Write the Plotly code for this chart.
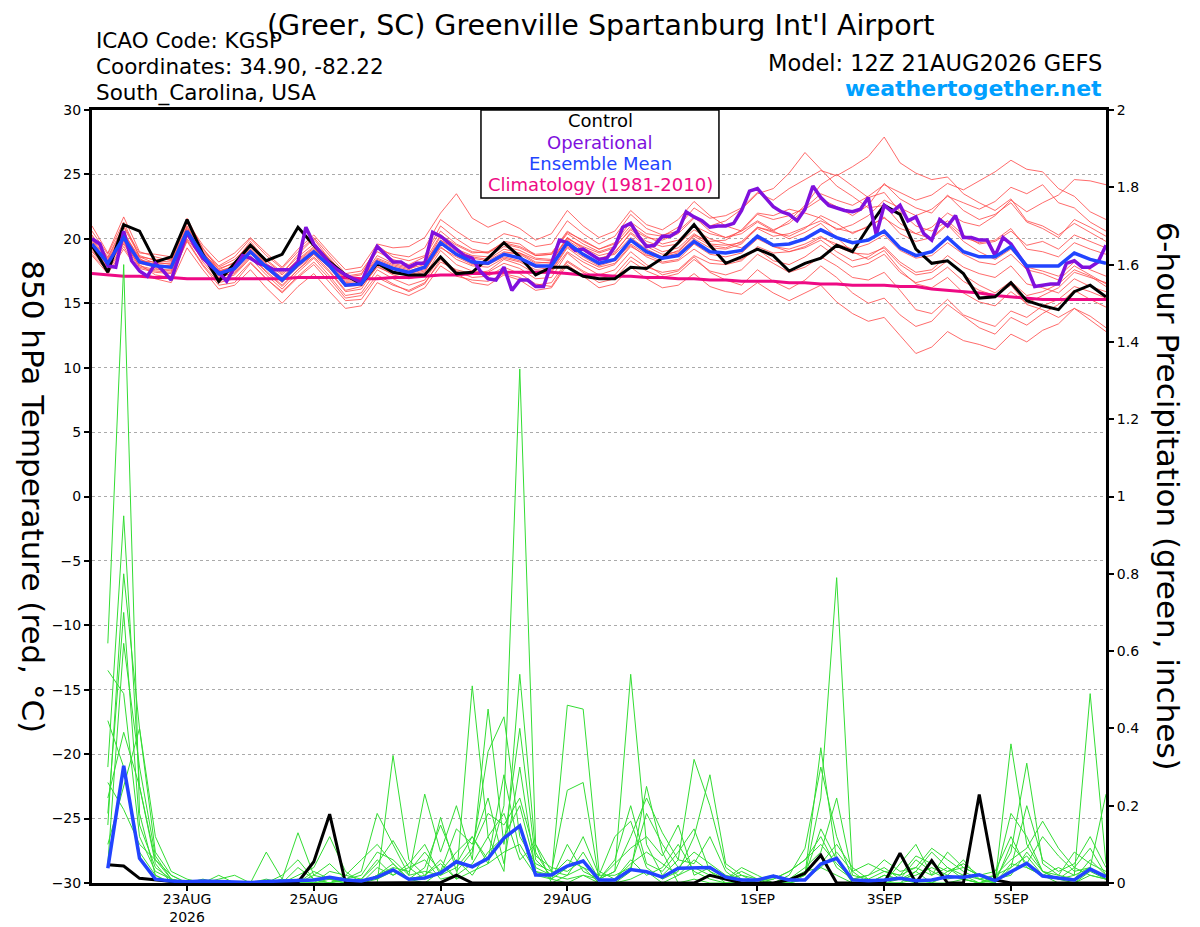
import pandas as pd
import plotly.graph_objects as go

# forecast times: 12Z 21 Aug 2026 run, 6-hourly out to 384h (op run is 3-hourly)
run_start = pd.Timestamp('2026-08-21 12:00')
tick_dates = ['2026-08-23', '2026-08-25', '2026-08-27', '2026-08-29', '2026-09-01', '2026-09-03', '2026-09-05']
tick_labels = ['23AUG<br>2026', '25AUG', '27AUG', '29AUG', '1SEP', '3SEP', '5SEP']

# 850 hPa temperature (C), 6-hourly from hour 0
control_temp = [19.5, 17.4, 21.1, 20.6, 18.2, 18.6, 21.5, 18.8, 16.7, 18.1,
                19.5, 18.3, 18.8, 20.9, 19.5, 18.2, 17.2, 16.5, 18.1, 17.4,
                17.2, 17.2, 18.6, 17.3, 17.4, 18.5, 19.7, 18.6, 17.2, 17.8,
                17.8, 17.1, 16.9, 16.9, 17.8, 17.7, 18.5, 19.7, 21.1, 19.5,
                18.1, 18.6, 19.2, 18.7, 17.5, 18.1, 18.5, 19.5, 19.0, 20.9,
                22.6, 21.9, 19.2, 18.1, 18.3, 17.3, 15.4, 15.5, 16.6, 15.2,
                14.8, 14.5, 15.9, 16.4, 15.5]
mean_temp = [19.6, 18.1, 20.1, 18.2, 17.9, 17.8, 20.6, 18.7, 17.3, 17.7,
             19.0, 17.8, 16.8, 18.0, 19.0, 17.9, 16.4, 16.5, 18.2, 17.7,
             17.4, 17.8, 19.7, 18.8, 18.2, 18.1, 18.8, 18.5, 17.9, 17.9,
             19.7, 18.8, 18.1, 18.4, 19.9, 19.0, 18.5, 18.7, 19.8, 19.0,
             18.9, 19.1, 20.2, 19.5, 19.6, 20.0, 20.7, 20.1, 19.7, 19.9,
             20.6, 19.3, 18.7, 19.0, 20.1, 19.0, 18.6, 18.6, 19.4, 17.9,
             17.9, 17.9, 18.9, 18.4, 18.1]
clim_temp = [17.3, 17.2, 17.1, 17.1, 17.0, 17.0, 16.9, 16.9, 16.9, 16.9,
             16.9, 16.9, 16.9, 17.0, 17.0, 17.0, 17.0, 16.9, 16.9, 17.0,
             17.0, 17.1, 17.2, 17.2, 17.3, 17.3, 17.4, 17.4, 17.4, 17.4,
             17.3, 17.2, 17.2, 17.1, 17.1, 17.0, 17.0, 16.9, 16.9, 16.8,
             16.8, 16.7, 16.7, 16.7, 16.6, 16.6, 16.5, 16.5, 16.4, 16.4,
             16.4, 16.3, 16.3, 16.1, 16.0, 15.9, 15.8, 15.6, 15.5, 15.4,
             15.3, 15.3, 15.3, 15.3, 15.3]
# operational, 3-hourly
op_temp = [20.0, 19.6, 17.9, 17.8, 20.6, 18.3, 17.5, 17.1,
           18.1, 17.5, 16.8, 18.6, 20.5, 19.4, 18.5, 17.9,
           17.4, 16.7, 17.8, 18.7, 18.5, 18.1, 17.9, 17.6,
           17.6, 17.6, 18.2, 20.9, 19.6, 18.8, 18.1, 17.6,
           17.2, 16.9, 16.6, 18.1, 19.4, 18.8, 18.2, 18.2,
           17.8, 18.1, 18.1, 20.5, 20.2, 19.7, 19.2, 18.7,
           18.5, 17.5, 16.9, 16.8, 17.8, 16.0, 16.8, 16.8,
           16.3, 16.3, 18.1, 19.9, 19.7, 19.1, 19.2, 18.8,
           18.4, 18.5, 19.4, 20.9, 21.2, 20.2, 19.4, 19.5,
           20.2, 20.2, 20.6, 22.1, 21.7, 21.4, 20.9, 21.0,
           21.0, 21.2, 22.2, 23.7, 23.9, 23.2, 22.5, 22.1,
           21.9, 21.4, 22.3, 24.1, 23.2, 22.6, 22.4, 22.2,
           22.1, 22.3, 23.2, 20.3, 22.6, 22.1, 22.6, 21.4,
           21.7, 20.4, 19.9, 21.5, 21.0, 21.8, 20.1, 20.1,
           19.9, 19.9, 18.7, 20.1, 19.6, 18.7, 17.8, 16.3,
           16.4, 16.5, 16.5, 18.1, 18.3, 17.8, 17.8, 18.2,
           19.5]

member_temp = [
    [21.0, 18.9, 21.7, 19.0, 18.6, 18.3, 21.2, 19.3, 17.6, 18.2,
     19.8, 18.3, 17.3, 18.8, 20.0, 18.4, 17.0, 17.2, 19.5, 18.6,
     18.3, 18.7, 21.0, 20.0, 19.2, 18.9, 19.8, 19.6, 18.7, 18.8,
     20.5, 19.9, 19.2, 19.7, 21.3, 20.4, 20.2, 20.9, 22.4, 21.6,
     21.8, 22.4, 23.6, 23.0, 23.9, 24.6, 25.3, 24.9, 25.6, 26.4,
     27.9, 25.9, 25.1, 24.6, 24.8, 23.5, 22.8, 22.2, 23.1, 21.4,
     21.0, 20.3, 21.2, 20.5, 19.8],
    [18.8, 17.5, 19.4, 17.4, 17.0, 17.1, 19.8, 17.9, 16.4, 16.6,
     18.1, 16.9, 15.9, 17.1, 18.2, 16.9, 15.4, 15.6, 17.2, 16.5,
     15.9, 16.5, 18.4, 17.3, 16.6, 16.4, 17.2, 16.8, 16.0, 16.2,
     18.0, 17.1, 16.2, 16.5, 17.8, 16.9, 16.2, 16.4, 17.3, 16.3,
     15.9, 15.7, 16.6, 15.8, 15.2, 15.8, 16.4, 15.1, 14.2, 13.6,
     13.9, 12.5, 11.1, 11.6, 12.8, 12.1, 11.8, 11.4, 12.6, 12.0,
     12.9, 13.4, 14.6, 14.0, 13.1],
    [20.3, 18.6, 21.0, 18.9, 18.8, 18.6, 21.3, 19.5, 18.2, 18.9,
     20.1, 18.9, 17.8, 19.2, 20.3, 18.9, 17.6, 17.8, 19.6, 19.3,
     19.4, 20.1, 22.0, 23.5, 21.6, 20.9, 21.4, 20.8, 19.9, 20.4,
     22.2, 21.0, 20.1, 20.6, 22.2, 21.1, 20.7, 21.5, 22.9, 21.8,
     21.0, 20.6, 21.4, 20.7, 21.2, 22.3, 23.1, 22.5, 21.8, 22.6,
     24.3, 23.1, 22.4, 22.0, 23.4, 22.2, 21.5, 21.9, 22.8, 21.3,
     20.8, 20.1, 21.5, 20.9, 20.2],
    [19.2, 17.8, 19.9, 17.8, 17.5, 17.4, 20.2, 18.5, 17.1, 17.3,
     18.6, 17.5, 16.4, 17.6, 18.8, 17.5, 16.0, 16.3, 17.8, 17.3,
     17.2, 17.5, 19.3, 18.6, 18.0, 18.0, 18.9, 18.9, 18.4, 18.3,
     20.0, 19.4, 18.9, 19.3, 20.8, 20.1, 19.9, 20.4, 21.6, 21.0,
     21.4, 22.3, 23.5, 23.9, 25.1, 26.7, 25.4, 24.1, 23.3, 22.4,
     22.6, 21.2, 20.4, 20.0, 21.1, 19.8, 19.0, 18.4, 19.2, 17.8,
     17.5, 17.1, 18.2, 17.6, 17.1],
    [19.4, 18.2, 20.3, 18.5, 17.7, 17.5, 20.4, 18.2, 16.8, 17.2,
     18.5, 17.2, 16.1, 17.4, 18.5, 17.1, 15.6, 15.8, 17.6, 16.9,
     16.4, 16.8, 18.6, 17.5, 17.0, 17.1, 17.8, 17.3, 16.5, 16.3,
     18.2, 17.4, 16.6, 16.9, 18.3, 17.5, 17.0, 17.3, 18.4, 17.5,
     17.2, 17.6, 18.8, 18.1, 17.4, 17.8, 18.6, 17.9, 17.0, 16.8,
     17.4, 16.0, 14.5, 14.2, 15.3, 14.1, 13.6, 13.2, 14.4, 13.9,
     14.8, 15.3, 16.3, 15.9, 15.4],
    [20.0, 18.4, 20.6, 18.3, 18.2, 18.0, 20.9, 19.0, 17.5, 17.9,
     19.3, 18.0, 17.0, 18.3, 19.3, 18.2, 16.8, 16.9, 18.7, 18.1,
     17.8, 18.2, 19.9, 19.2, 18.7, 18.6, 19.4, 19.1, 18.5, 18.4,
     20.1, 19.3, 18.7, 19.0, 20.4, 19.4, 18.8, 19.0, 20.2, 19.5,
     19.3, 19.8, 20.9, 20.5, 20.2, 20.8, 21.8, 21.2, 20.4, 21.0,
     21.6, 20.8, 20.4, 20.9, 22.0, 21.3, 21.0, 21.8, 23.0, 22.1,
     22.8, 23.4, 24.6, 24.5, 24.2],
    [19.7, 18.0, 19.8, 18.1, 17.8, 17.9, 20.5, 18.8, 17.4, 17.9,
     19.1, 17.9, 16.9, 18.2, 19.2, 18.1, 16.7, 16.8, 18.4, 17.9,
     17.6, 18.3, 20.3, 19.5, 18.9, 19.0, 19.7, 19.4, 18.8, 18.9,
     20.6, 19.8, 19.2, 19.6, 21.0, 20.2, 19.6, 19.9, 21.0, 20.4,
     20.1, 20.6, 21.9, 21.5, 21.8, 22.4, 23.5, 23.0, 22.6, 23.3,
     24.2, 23.6, 23.0, 23.4, 24.3, 23.8, 24.5, 25.2, 26.1, 25.4,
     25.2, 23.9, 23.3, 22.1, 21.5],
    [19.0, 17.6, 19.6, 17.7, 17.4, 17.3, 20.0, 18.4, 17.0, 17.4,
     18.7, 17.4, 16.3, 17.6, 18.6, 17.4, 15.9, 16.1, 17.9, 17.2,
     16.9, 17.2, 19.1, 18.0, 17.5, 17.4, 18.1, 17.7, 16.9, 17.0,
     18.9, 17.9, 17.2, 17.6, 19.0, 18.0, 17.2, 17.5, 18.6, 17.4,
     16.8, 16.4, 17.6, 16.7, 16.1, 16.8, 17.9, 17.0, 15.8, 15.0,
     15.4, 14.1, 13.2, 13.6, 14.9, 14.0, 13.1, 12.6, 13.9, 13.3,
     14.2, 14.9, 16.0, 15.3, 14.7],
    [19.9, 18.3, 20.4, 18.6, 18.1, 18.1, 20.8, 18.9, 17.7, 18.1,
     19.4, 18.1, 17.2, 18.4, 19.4, 18.3, 16.9, 16.9, 18.5, 18.0,
     17.7, 18.0, 20.2, 19.1, 18.6, 18.4, 19.2, 18.9, 18.2, 18.1,
     19.9, 19.1, 18.4, 18.9, 20.5, 19.6, 19.0, 19.3, 20.4, 19.6,
     19.5, 19.7, 20.8, 20.2, 20.4, 20.9, 21.4, 20.8, 20.5, 20.9,
     21.7, 20.4, 19.8, 20.1, 21.2, 20.1, 19.7, 19.9, 20.8, 19.2,
     19.0, 18.6, 19.7, 19.2, 18.8],
    [18.7, 17.3, 19.2, 17.4, 16.9, 16.6, 19.3, 17.6, 16.1, 16.4,
     17.6, 16.2, 15.0, 16.3, 17.3, 15.9, 14.6, 14.8, 16.6, 16.0,
     15.6, 16.2, 17.9, 17.1, 16.8, 16.7, 17.3, 17.0, 16.4, 16.6,
     18.3, 17.5, 16.9, 17.2, 18.6, 17.8, 17.4, 17.6, 18.7, 18.1,
     18.0, 18.3, 19.4, 18.9, 19.0, 19.4, 20.1, 19.6, 19.2, 19.6,
     20.3, 19.1, 18.5, 18.7, 19.7, 18.8, 18.2, 18.0, 18.8, 17.6,
     17.3, 16.8, 17.9, 17.2, 16.5],
    [20.2, 18.5, 20.9, 18.7, 18.3, 18.2, 21.0, 19.1, 17.8, 18.4,
     19.6, 18.4, 17.4, 18.6, 19.6, 18.5, 17.1, 17.3, 19.0, 18.4,
     18.0, 18.6, 20.6, 19.6, 19.0, 18.9, 19.6, 19.3, 18.7, 18.8,
     20.4, 19.6, 19.0, 19.4, 20.7, 19.8, 19.4, 19.6, 20.7, 20.0,
     19.6, 19.3, 20.1, 19.4, 19.0, 19.3, 19.9, 19.0, 18.3, 18.6,
     19.4, 18.2, 17.4, 17.6, 18.7, 17.8, 17.3, 17.0, 17.9, 16.5,
     16.2, 15.8, 16.9, 16.3, 15.9],
    [19.3, 17.9, 19.7, 17.9, 17.6, 17.6, 20.3, 18.6, 17.3, 17.6,
     18.9, 17.7, 16.6, 17.9, 18.9, 17.7, 16.3, 16.4, 18.1, 17.6,
     17.3, 17.6, 19.4, 18.4, 17.9, 17.8, 18.5, 18.2, 17.6, 17.5,
     19.3, 18.4, 17.8, 18.1, 19.5, 18.6, 18.1, 18.3, 19.2, 18.4,
     18.2, 18.4, 19.2, 18.3, 18.0, 18.6, 19.5, 18.6, 17.8, 18.1,
     18.8, 17.4, 16.6, 16.9, 17.8, 16.7, 16.0, 15.6, 16.4, 14.9,
     14.5, 13.9, 14.6, 13.7, 12.8],
    [20.6, 18.8, 21.3, 18.6, 18.4, 18.4, 21.6, 19.2, 17.9, 18.6,
     20.0, 18.7, 17.7, 19.0, 20.1, 18.7, 17.3, 17.5, 19.2, 18.8,
     18.6, 19.3, 21.5, 20.6, 19.8, 19.6, 20.4, 20.1, 19.4, 19.6,
     21.4, 20.4, 19.6, 20.2, 21.9, 20.8, 20.3, 20.6, 21.7, 20.6,
     20.1, 20.4, 21.3, 20.6, 20.0, 20.5, 21.2, 20.1, 19.0, 18.4,
     19.1, 17.6, 16.5, 16.2, 17.0, 15.8, 15.1, 14.8, 15.9, 15.0,
     15.6, 16.2, 17.4, 17.0, 16.6],
    [19.1, 17.7, 20.0, 18.0, 17.2, 17.0, 19.9, 18.0, 16.6, 16.9,
     18.2, 16.9, 15.8, 17.0, 18.0, 16.6, 15.2, 15.3, 17.0, 16.4,
     16.0, 16.6, 18.2, 17.6, 17.3, 17.5, 18.4, 18.0, 17.3, 17.4,
     19.0, 18.2, 17.6, 18.0, 19.4, 18.7, 18.6, 19.1, 20.3, 19.8,
     19.9, 20.7, 22.0, 21.8, 22.3, 22.0, 21.6, 20.7, 21.1, 21.8,
     23.0, 22.4, 21.8, 22.3, 23.3, 22.8, 22.3, 22.9, 24.0, 23.5,
     24.2, 22.8, 22.4, 21.3, 20.6],
    [19.8, 18.1, 20.0, 18.2, 18.0, 17.7, 20.6, 18.6, 17.2, 17.5,
     18.9, 17.7, 16.7, 17.8, 18.8, 17.8, 16.5, 16.6, 18.3, 17.5,
     17.1, 17.4, 19.6, 18.7, 18.1, 18.0, 18.6, 18.3, 17.8, 17.6,
     19.4, 18.6, 17.9, 18.3, 19.6, 18.8, 18.2, 18.4, 19.6, 18.8,
     18.6, 18.9, 20.0, 19.4, 19.2, 19.6, 20.2, 19.4, 18.9, 18.8,
     19.3, 18.0, 17.2, 17.4, 18.3, 17.2, 16.4, 15.8, 16.7, 15.6,
     15.9, 16.5, 17.6, 17.1, 16.3],
    [19.5, 18.0, 20.2, 18.4, 18.0, 17.9, 20.7, 18.9, 17.5, 17.8,
     19.2, 17.9, 16.9, 18.1, 19.1, 18.0, 16.6, 16.7, 18.3, 17.8,
     17.5, 17.9, 19.9, 19.0, 18.5, 18.3, 19.0, 18.8, 18.1, 18.2,
     20.1, 19.2, 18.5, 18.8, 20.1, 19.2, 18.6, 18.9, 20.0, 19.3,
     19.2, 19.6, 20.9, 20.6, 21.4, 22.6, 24.2, 25.0, 24.1, 23.2,
     23.6, 22.1, 21.0, 20.6, 21.4, 20.3, 19.6, 19.8, 20.6, 19.5,
     19.8, 19.2, 20.3, 19.8, 19.3],
]

# 6-hour precipitation (inches), ending at hour 6 ... 384
control_precip = [0.047, 0.044, 0.012, 0.008, 0.003, 0, 0, 0,
                  0, 0, 0, 0, 0.002, 0.055, 0.178, 0,
                  0, 0, 0, 0, 0, 0.001, 0.020, 0,
                  0, 0, 0, 0, 0, 0, 0, 0,
                  0, 0, 0, 0, 0, 0, 0.020, 0.010,
                  0, 0, 0, 0.008, 0.025, 0.072, 0, 0,
                  0, 0, 0.077, 0, 0.058, 0, 0, 0.229,
                  0.008, 0, 0, 0, 0, 0, 0, 0]
mean_precip = [0.038, 0.303, 0.064, 0.010, 0.005, 0.003, 0.005, 0.003,
               0.001, 0.001, 0.004, 0.006, 0.008, 0.008, 0.015, 0.008,
               0.005, 0.015, 0.034, 0.010, 0.013, 0.026, 0.055, 0.042,
               0.064, 0.116, 0.148, 0.021, 0.021, 0.044, 0.057, 0.008,
               0.008, 0.035, 0.029, 0.015, 0.038, 0.038, 0.040, 0.015,
               0.008, 0.008, 0.018, 0.008, 0.008, 0.049, 0.064, 0.008,
               0.006, 0.008, 0.012, 0.006, 0.008, 0.016, 0.015, 0.021,
               0.006, 0.029, 0.051, 0.018, 0.012, 0.008, 0.036, 0.016]
member_precip = [
    [0.62, 1.60, 0.18, 0.02, 0, 0, 0, 0,
     0, 0, 0, 0, 0, 0, 0.01, 0,
     0, 0.02, 0.05, 0.01, 0, 0.03, 0.08, 0.12,
     0.05, 0.20, 1.33, 0.10, 0, 0.02, 0.04, 0,
     0, 0.01, 0.03, 0, 0.02, 0.06, 0.03, 0,
     0, 0, 0, 0, 0.01, 0.04, 0.02, 0,
     0, 0, 0.01, 0, 0, 0.03, 0.05, 0.02,
     0, 0.04, 0.07, 0.02, 0, 0, 0.03, 0.01],
    [0.30, 0.95, 0.25, 0.06, 0.01, 0, 0, 0,
     0, 0, 0, 0, 0.02, 0.04, 0.12, 0.03,
     0, 0, 0.33, 0.06, 0.02, 0.05, 0.01, 0.51,
     0.12, 0.03, 0.54, 0.08, 0.01, 0, 0.02, 0.01,
     0, 0.03, 0.25, 0.08, 0, 0.01, 0, 0,
     0, 0, 0, 0.01, 0.02, 0.35, 0.06, 0,
     0, 0, 0, 0.03, 0, 0, 0.01, 0,
     0.01, 0.02, 0.08, 0.03, 0.01, 0, 0.02, 0.01],
    [0.15, 0.80, 0.40, 0.08, 0.02, 0, 0, 0,
     0, 0, 0, 0, 0.04, 0.01, 0, 0.01,
     0.03, 0.18, 0.10, 0.02, 0.23, 0.08, 0.20, 0.06,
     0.45, 0.10, 0.40, 0.06, 0.02, 0.46, 0.45, 0.03,
     0.01, 0.06, 0.02, 0.04, 0.10, 0.03, 0.01, 0,
     0, 0, 0, 0, 0.02, 0.22, 0.79, 0.03,
     0, 0, 0, 0.01, 0, 0.02, 0.06, 0.01,
     0, 0.36, 0.10, 0.03, 0.01, 0.02, 0.49, 0.05],
    [0.55, 0.49, 0.12, 0.03, 0.01, 0, 0.01, 0,
     0, 0, 0.01, 0, 0, 0, 0, 0.02,
     0.01, 0.05, 0.11, 0.04, 0.01, 0.17, 0.03, 0.08,
     0.34, 0.43, 0.12, 0.05, 0.03, 0.24, 0.26, 0.01,
     0.03, 0.54, 0.10, 0.02, 0.06, 0.32, 0.20, 0.04,
     0.01, 0, 0.01, 0.03, 0.06, 0.10, 0.05, 0.01,
     0.02, 0.04, 0.01, 0.06, 0.03, 0.01, 0.02, 0,
     0.01, 0.08, 0.31, 0.05, 0.02, 0.01, 0.06, 0.02],
    [0.22, 0.39, 0.25, 0.05, 0, 0, 0, 0.02,
     0, 0, 0.08, 0.01, 0.13, 0.02, 0.05, 0.01,
     0, 0.04, 0.02, 0.05, 0.10, 0.02, 0.06, 0.02,
     0.08, 0.12, 0.20, 0.04, 0.02, 0.06, 0.04, 0.02,
     0.12, 0.16, 0.04, 0.01, 0.03, 0.12, 0.28, 0.05,
     0.02, 0, 0.02, 0.01, 0.04, 0.08, 0.22, 0.02,
     0.01, 0, 0.05, 0.10, 0.02, 0.04, 0.01, 0,
     0.02, 0.04, 0.20, 0.06, 0.03, 0.05, 0.12, 0.04],
    [0.42, 0.30, 0.08, 0.02, 0, 0, 0, 0,
     0, 0, 0, 0, 0.01, 0, 0.03, 0.02,
     0.06, 0.10, 0.05, 0.01, 0.04, 0.15, 0.05, 0.12,
     0.06, 0.28, 0.08, 0.02, 0.01, 0.10, 0.03, 0.01,
     0.05, 0.09, 0.12, 0.07, 0.15, 0.02, 0.04, 0.01,
     0.03, 0.01, 0, 0.02, 0.09, 0.30, 0.12, 0.01,
     0, 0.02, 0.01, 0.03, 0.08, 0.04, 0.02, 0.01,
     0, 0.10, 0.05, 0.12, 0.07, 0.03, 0.04, 0.23],
    [0.10, 0.25, 0.40, 0.12, 0.03, 0.01, 0, 0.01,
     0.02, 0, 0, 0, 0, 0.03, 0.01, 0,
     0, 0.02, 0.04, 0.03, 0.08, 0.03, 0.14, 0.10,
     0.22, 0.05, 0.30, 0.03, 0.01, 0.04, 0.12, 0.02,
     0.02, 0.04, 0.18, 0.10, 0.04, 0.08, 0.05, 0.02,
     0.01, 0, 0, 0, 0.01, 0.05, 0.10, 0.04,
     0.01, 0.03, 0.02, 0.07, 0.05, 0.03, 0.04, 0.02,
     0.01, 0.18, 0.12, 0.03, 0.02, 0.08, 0.05, 0.03],
    [0.05, 0.62, 0.30, 0.07, 0.01, 0, 0, 0,
     0, 0, 0, 0.02, 0.06, 0.01, 0, 0,
     0.01, 0.06, 0.02, 0.04, 0.06, 0.01, 0.02, 0.05,
     0.12, 0.18, 0.06, 0.10, 0.03, 0.02, 0.08, 0.01,
     0.06, 0.20, 0.05, 0.03, 0.08, 0.14, 0.03, 0.01,
     0.02, 0.01, 0.01, 0.03, 0.06, 0.12, 0.04, 0.01,
     0.02, 0.06, 0.03, 0.04, 0.09, 0.06, 0.03, 0.01,
     0.02, 0.06, 0.09, 0.16, 0.09, 0.04, 0.02, 0.01],
    [0.18, 0.70, 0.15, 0.04, 0.01, 0, 0, 0,
     0, 0, 0, 0, 0, 0, 0, 0.01,
     0.02, 0.08, 0.06, 0.02, 0.03, 0.02, 0.04, 0.09,
     0.18, 0.15, 0.22, 0.07, 0.04, 0.03, 0.06, 0.01,
     0.03, 0.12, 0.22, 0.13, 0.06, 0.05, 0.12, 0.03,
     0, 0.01, 0.02, 0.01, 0.03, 0.04, 0.08, 0.03,
     0.05, 0.03, 0.02, 0.04, 0.02, 0.08, 0.04, 0.02,
     0.03, 0.12, 0.04, 0.02, 0.01, 0.04, 0.09, 0.02],
    [0.26, 0.19, 0.10, 0.06, 0.02, 0, 0, 0,
     0, 0, 0, 0.01, 0, 0.02, 0.01, 0,
     0, 0.01, 0.03, 0.01, 0.02, 0.06, 0.01, 0.03,
     0.05, 0.08, 0.10, 0.03, 0.02, 0.01, 0.02, 0,
     0.01, 0.05, 0.08, 0.05, 0.02, 0.04, 0.02, 0.01,
     0.04, 0.02, 0, 0.01, 0.02, 0.14, 0.06, 0.01,
     0, 0.02, 0.01, 0.02, 0.04, 0.02, 0.01, 0,
     0, 0.05, 0.04, 0.02, 0.04, 0.02, 0.04, 0.01],
]

FONT = 'DejaVu Sans, Liberation Sans, Arial, sans-serif'
times6 = pd.date_range(run_start, periods=len(control_temp), freq='6h')
times3 = pd.date_range(run_start, periods=len(op_temp), freq='3h')
precip_times = times6[1:]

fig = go.Figure()

# ensemble members first so the main lines sit on top
for vals in member_precip:
    fig.add_trace(go.Scatter(x=precip_times, y=vals, yaxis='y2', mode='lines',
                             line=dict(color='#33dd33', width=1), hoverinfo='skip'))
for vals in member_temp:
    fig.add_trace(go.Scatter(x=times6, y=vals, mode='lines',
                             line=dict(color='rgba(255,70,70,0.8)', width=1), hoverinfo='skip'))

fig.add_trace(go.Scatter(x=times6, y=clim_temp, mode='lines', line=dict(color='#ee0a84', width=3)))
fig.add_trace(go.Scatter(x=precip_times, y=control_precip, yaxis='y2', mode='lines',
                         line=dict(color='black', width=3)))
fig.add_trace(go.Scatter(x=precip_times, y=mean_precip, yaxis='y2', mode='lines',
                         line=dict(color='#2244ff', width=3.5)))
fig.add_trace(go.Scatter(x=times6, y=control_temp, mode='lines', line=dict(color='black', width=3)))
fig.add_trace(go.Scatter(x=times3, y=op_temp, mode='lines', line=dict(color='#8010dd', width=3.5)))
fig.add_trace(go.Scatter(x=times6, y=mean_temp, mode='lines', line=dict(color='#2244ff', width=3.5)))

axis_common = dict(showline=True, linecolor='black', linewidth=3, ticks='outside',
                   ticklen=5, tickwidth=1.5, tickcolor='black', automargin=False,
                   tickfont=dict(size=14, color='black', family=FONT))

# the page body has an 8px margin, so the figure is drawn 8px smaller than the window
fig.update_layout(
    width=1192, height=919,
    margin=dict(l=84, r=94, t=102, b=44),
    paper_bgcolor='white', plot_bgcolor='white',
    showlegend=False,
    font=dict(family=FONT, color='black'),
    xaxis=dict(range=[times6[0], times6[-1]], tickvals=tick_dates, ticktext=tick_labels,
               ticklabelstandoff=-4, showgrid=False, zeroline=False, mirror=True, **axis_common),
    yaxis=dict(range=[-30, 30], tick0=-30, dtick=5, showgrid=True, gridcolor='#aaaaaa',
               griddash='dot', gridwidth=1, zeroline=False, mirror=True, **axis_common),
    yaxis2=dict(range=[0, 2], tick0=0, dtick=0.2, overlaying='y', side='right',
                showgrid=False, zeroline=False, **axis_common),
)

# legend box at the top of the plot
fig.add_shape(type='rect', xref='paper', yref='paper', x0=0.3836, x1=0.6183, y0=0.886, y1=1.0,
              fillcolor='white', line=dict(color='black', width=1.5), layer='above')

notes = [
    ("(Greer, SC) Greenville Spartanburg Int'l Airport", 0.501, 1.1087, 'center', 28.5, 'black'),
    ('ICAO Code: KGSP', 0.002, 1.0905, 'left', 21.5, 'black'),
    ('Coordinates: 34.90, -82.22', 0.002, 1.0569, 'left', 21.5, 'black'),
    ('South_Carolina, USA', 0.002, 1.022, 'left', 21.5, 'black'),
    ('Model: 12Z 21AUG2026 GEFS', 0.998, 1.0608, 'right', 22.5, 'black'),
    ('<b>weathertogether.net</b>', 0.998, 1.0272, 'right', 22, '#00a0ff'),
    ('Control', 0.501, 0.9858, 'center', 18, 'black'),
    ('Operational', 0.501, 0.9586, 'center', 18, '#8010dd'),
    ('Ensemble Mean', 0.501, 0.9314, 'center', 18, '#2244ff'),
    ('Climatology (1981-2010)', 0.501, 0.903, 'center', 18, '#ee0a84'),
]
for text, x, y, anchor, size, color in notes:
    fig.add_annotation(text=text, x=x, y=y, xref='paper', yref='paper', xanchor=anchor,
                       yanchor='middle', showarrow=False, font=dict(size=size, color=color, family=FONT))

fig.add_annotation(text='850 hPa Temperature (red, °C)', x=-0.058, y=0.5, xref='paper', yref='paper',
                   xanchor='center', yanchor='middle', textangle=90, showarrow=False,
                   font=dict(size=31, color='black', family=FONT))
fig.add_annotation(text='6-hour Precipitation (green, inches)', x=1.062, y=0.5, xref='paper', yref='paper',
                   xanchor='center', yanchor='middle', textangle=90, showarrow=False,
                   font=dict(size=31, color='black', family=FONT))

fig.write_html("out.html")
